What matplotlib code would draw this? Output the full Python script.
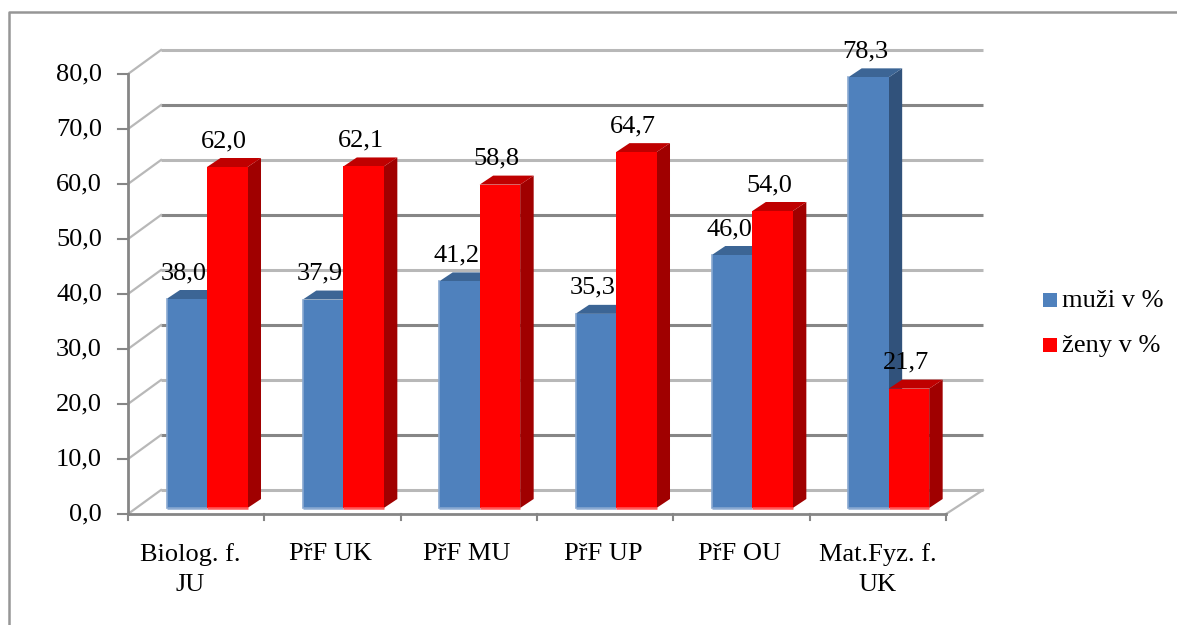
#!/usr/bin/env python3
"""Pseudo-3D clustered bars (muži / ženy po fakultách), drawn with polygons."""
import matplotlib
matplotlib.use('Agg')
import matplotlib.pyplot as plt
from matplotlib.lines import Line2D
from matplotlib.patches import Polygon, Rectangle

categories = ["Biolog. f.\nJU", "PřF UK", "PřF MU", "PřF UP", "PřF OU", "Mat.Fyz. f.\nUK"]
muzi = [38.0, 37.9, 41.2, 35.3, 46.0, 78.3]
zeny = [62.0, 62.1, 58.8, 64.7, 54.0, 21.7]
yticks = [0, 10, 20, 30, 40, 50, 60, 70, 80]

W, H = 1177, 625
X0, X1, Y0, Y1 = 128, 946, 514, 74   # front axis in pixels
PX, PY = 136.33, 5.5                 # pixels per category / per percent

# depth of the box and of the bars, in data units
BOX_DX, BOX_DY = 33 / PX, 24 / PY
BAR_DX, BAR_DY = 13.5 / PX, 9 / PY
BAR_W = 40.5 / PX
BAR_X = 38.5 / PX
BASE = 6 / PY

BLUE, BLUE_TOP, BLUE_SIDE = "#4f81bd", "#3c6595", "#31527b"
RED, RED_TOP, RED_SIDE = "#ff0000", "#bf0000", "#a00000"
GRID_DARK, GRID_LIGHT = "#868686", "#b8b8b8"
FS = 19
LABEL_NUDGE = [-6, -1.5, -2, -2, -1.5, 0]  # category labels sit a bit off centre in the original

plt.rcParams['font.family'] = ['Liberation Serif', 'DejaVu Serif']

fig = plt.figure(figsize=(W / 100, H / 100), dpi=100)
ax = fig.add_axes([X0 / W, 1 - Y0 / H, (X1 - X0) / W, (Y0 - Y1) / H])
ax.set_xlim(0, len(categories))
ax.set_ylim(0, 80)
ax.axis('off')

# outer frame, only top and left reach the picture
fig.add_artist(Line2D([8.5 / W, 8.5 / W, 1], [0, 1 - 11.5 / H, 1 - 11.5 / H],
                      color="#969696", lw=1.8, transform=fig.transFigure))


def pct(v):
    return f"{v:.1f}".replace(".", ",")


n = len(categories)
# back gridlines and the slanted side wall
for i, v in enumerate(yticks):
    col = GRID_LIGHT if i % 2 == 0 else GRID_DARK
    ax.plot([BOX_DX, n + BOX_DX + 4 / PX], [v + BOX_DY, v + BOX_DY], color=col, lw=2.2,
            solid_capstyle='butt', clip_on=False, zorder=1)
    ax.plot([0, BOX_DX], [v, v + BOX_DY], color="#b8b8b8", lw=1.6, clip_on=False, zorder=1)
    ax.plot([-10 / PX, 0], [v, v], color="#868686", lw=1.5, clip_on=False, zorder=1)
    ax.text(-26 / PX, v, pct(v), ha='right', va='center', fontsize=FS, clip_on=False)
ax.plot([n, n + BOX_DX + 4 / PX], [0, BOX_DY], color="#b8b8b8", lw=1.6, clip_on=False, zorder=1)

# front axes
ax.plot([0, 0], [0, 80], color="#868686", lw=2, clip_on=False, zorder=2)
ax.plot([0, n], [0, 0], color="#868686", lw=2, clip_on=False, zorder=2)
for i in range(n + 1):
    ax.plot([i, i], [0, -6 / PY], color="#868686", lw=1.5, clip_on=False, zorder=2)


def bar3d(x, v, front, top, side, edge, z):
    b = BASE
    ax.add_patch(Polygon([(x + BAR_W, b), (x + BAR_W + BAR_DX, b + BAR_DY),
                          (x + BAR_W + BAR_DX, v + b + BAR_DY), (x + BAR_W, v + b)],
                         fc=side, ec='none', zorder=z, clip_on=False))
    ax.add_patch(Polygon([(x, v + b), (x + BAR_DX, v + b + BAR_DY),
                          (x + BAR_W + BAR_DX, v + b + BAR_DY), (x + BAR_W, v + b)],
                         fc=top, ec='none', zorder=z, clip_on=False))
    ax.add_patch(Rectangle((x, b), BAR_W, v, fc=front, ec='none', zorder=z + 0.1, clip_on=False))
    ax.plot([x, x + BAR_W], [b, b], color=edge, lw=1.8, solid_capstyle='butt',
            zorder=z + 0.2, clip_on=False)


for i, (m, z) in enumerate(zip(muzi, zeny)):
    bar3d(i + BAR_X, m, BLUE, BLUE_TOP, BLUE_SIDE, "#8aa9d1", 3)
    bar3d(i + BAR_X + BAR_W, z, RED, RED_TOP, RED_SIDE, "#ff5a5a", 4)
    # blue bars keep a pale rim on the left
    ax.plot([i + BAR_X, i + BAR_X], [BASE, m + BASE], color="#8aa9d1", lw=1.2, zorder=3.2,
            clip_on=False)
    ax.text(i + BAR_X + BAR_W / 2 - 3 / PX, m + BASE + BAR_DY + 11 / PY, pct(m),
            ha='center', va='baseline', fontsize=FS, zorder=6, clip_on=False)
    ax.text(i + BAR_X + BAR_W * 1.5 - 3 / PX, z + BASE + BAR_DY + 11 / PY, pct(z),
            ha='center', va='baseline', fontsize=FS, zorder=6, clip_on=False)
    ax.text(i + 0.5 + LABEL_NUDGE[i] / PX, -29 / PY, categories[i], ha='center', va='top',
            fontsize=FS, linespacing=1.5, clip_on=False)

# legend
fig.patches.append(Rectangle((1043 / W, 1 - 307 / H), 14 / W, 14 / H, transform=fig.transFigure, fc=BLUE, ec='none'))
fig.patches.append(Rectangle((1043 / W, 1 - 352 / H), 14 / W, 14 / H, transform=fig.transFigure, fc=RED, ec='none'))
fig.text(1062 / W, 1 - 301 / H, "muži v %", ha='left', va='center', fontsize=FS)
fig.text(1062 / W, 1 - 346 / H, "ženy v %", ha='left', va='center', fontsize=FS)

fig.savefig("out.png", dpi=100)
